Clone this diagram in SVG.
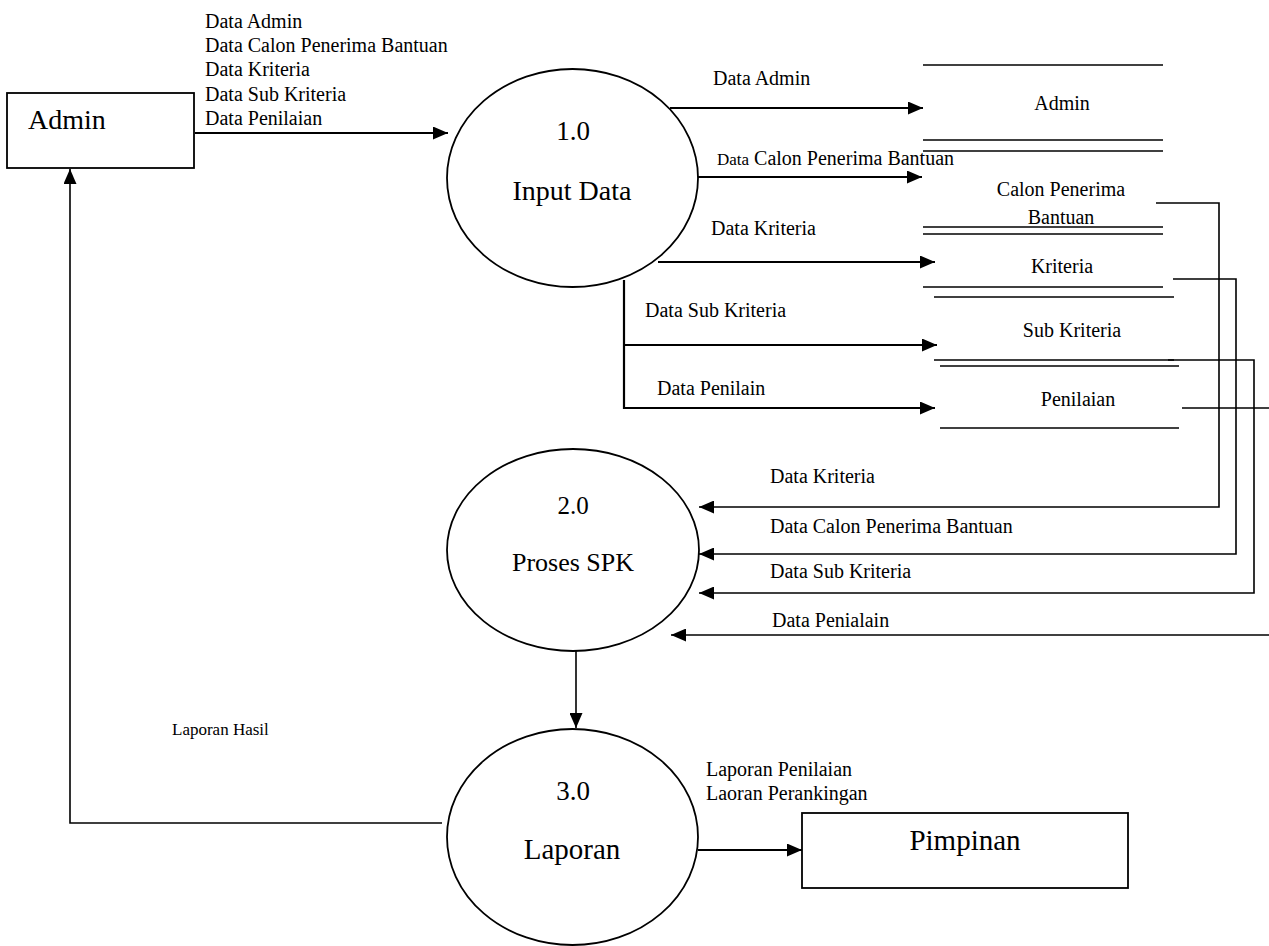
<svg xmlns="http://www.w3.org/2000/svg" width="1269" height="946" viewBox="0 0 1269 946" font-family="'Liberation Serif', 'Times New Roman', serif">
<defs>
<marker id="ah" markerUnits="userSpaceOnUse" markerWidth="15" markerHeight="13" refX="15" refY="6.5" orient="auto">
<path d="M0,0 L15,6.5 L0,13 z" fill="#000"/>
</marker>
<style>
text{font-family:'Liberation Serif','Times New Roman',serif;fill:#000}
.lbl{font-size:20px}
.st{font-size:20px;text-anchor:middle}
.nd{text-anchor:middle}
.flow{fill:none;stroke:#000;stroke-width:2.2}
.thin{fill:none;stroke:#000;stroke-width:1.6}
.shape{fill:#fff;stroke:#000;stroke-width:1.8}
.store{stroke:#000;stroke-width:1.6}
</style>
</defs>
<rect width="1269" height="946" fill="#fff"/>

<g id="connectors" font-family="'Liberation Serif', serif">
<path class="flow" d="M195,133 H448" marker-end="url(#ah)"/>
<path class="flow" d="M670,108 H923" marker-end="url(#ah)"/>
<path class="flow" d="M698,177 H922" marker-end="url(#ah)"/>
<path class="flow" d="M658,262 H935" marker-end="url(#ah)"/>
<path class="flow" d="M624,280 V408 H935" marker-end="url(#ah)"/>
<path class="flow" d="M624,345 H937" marker-end="url(#ah)"/>
<path class="thin" d="M1156,203 H1219 V507 H699" marker-end="url(#ah)"/>
<path class="thin" d="M1173,279 H1236 V554 H699" marker-end="url(#ah)"/>
<path class="thin" d="M1168,360 H1254 V593 H699" marker-end="url(#ah)"/>
<path class="thin" d="M1182,408 H1269"/>
<path class="thin" d="M1269,635 H671" marker-end="url(#ah)"/>
<path class="thin" d="M576,651 V728" marker-end="url(#ah)"/>
<path class="thin" d="M442,823 H70 V169" marker-end="url(#ah)"/>
<path class="flow" d="M698,850 H802" marker-end="url(#ah)"/>
<text class="lbl" x="205" y="28">Data Admin</text>
<text class="lbl" x="205" y="52">Data Calon Penerima Bantuan</text>
<text class="lbl" x="205" y="76">Data Kriteria</text>
<text class="lbl" x="205" y="101">Data Sub Kriteria</text>
<text class="lbl" x="205" y="125">Data Penilaian</text>
<text class="lbl" x="713" y="85">Data Admin</text>
<text class="lbl" x="717" y="165"><tspan font-size="17">Data</tspan> Calon Penerima Bantuan</text>
<text class="lbl" x="711" y="235">Data Kriteria</text>
<text class="lbl" x="645" y="317">Data Sub Kriteria</text>
<text class="lbl" x="657" y="395">Data Penilain</text>
<text class="lbl" x="770" y="483">Data Kriteria</text>
<text class="lbl" x="770" y="533">Data Calon Penerima Bantuan</text>
<text class="lbl" x="770" y="578">Data Sub Kriteria</text>
<text class="lbl" x="772" y="627">Data Penialain</text>
<text x="172" y="735" font-size="17">Laporan Hasil</text>
<text class="lbl" x="706" y="776">Laporan Penilaian</text>
<text class="lbl" x="706" y="800">Laoran Perankingan</text>
</g>

<g id="admin" font-family="'Liberation Serif', serif">
<rect class="shape" x="7" y="93" width="187" height="75"/>
<text x="28" y="129" font-size="28">Admin</text>
</g>

<g id="p1" font-family="'Liberation Serif', serif">
<ellipse class="shape" cx="572.5" cy="178" rx="125.5" ry="109"/>
<text class="nd" x="573" y="140" font-size="27">1.0</text>
<text class="nd" x="572" y="200" font-size="28">Input Data</text>
</g>

<g id="p2" font-family="'Liberation Serif', serif">
<ellipse class="shape" cx="573" cy="550" rx="126" ry="101"/>
<text class="nd" x="573" y="514" font-size="25">2.0</text>
<text class="nd" x="573" y="571" font-size="26">Proses SPK</text>
</g>

<g id="p3" font-family="'Liberation Serif', serif">
<ellipse class="shape" cx="572.5" cy="837" rx="125.5" ry="108"/>
<text class="nd" x="573" y="800" font-size="27">3.0</text>
<text class="nd" x="572" y="859" font-size="29">Laporan</text>
</g>

<g id="pimpinan" font-family="'Liberation Serif', serif">
<rect class="shape" x="802" y="813" width="326" height="75"/>
<text class="nd" x="965" y="850" font-size="29">Pimpinan</text>
</g>

<g id="ds-admin" font-family="'Liberation Serif', serif">
<line class="store" x1="923" y1="65" x2="1163" y2="65"/>
<line class="store" x1="923" y1="140" x2="1163" y2="140"/>
<text class="st" x="1062" y="110">Admin</text>
</g>

<g id="ds-calon" font-family="'Liberation Serif', serif">
<line class="store" x1="923" y1="151" x2="1163" y2="151"/>
<line class="store" x1="923" y1="227" x2="1163" y2="227"/>
<text class="st" x="1061" y="196">Calon Penerima</text>
<text class="st" x="1061" y="224">Bantuan</text>
</g>

<g id="ds-kriteria" font-family="'Liberation Serif', serif">
<line class="store" x1="923" y1="234" x2="1163" y2="234"/>
<line class="store" x1="923" y1="287" x2="1163" y2="287"/>
<text class="st" x="1062" y="273">Kriteria</text>
</g>

<g id="ds-sub" font-family="'Liberation Serif', serif">
<line class="store" x1="934" y1="297" x2="1174" y2="297"/>
<line class="store" x1="934" y1="360" x2="1174" y2="360"/>
<text class="st" x="1072" y="337">Sub Kriteria</text>
</g>

<g id="ds-penilaian" font-family="'Liberation Serif', serif">
<line class="store" x1="940" y1="366" x2="1179" y2="366"/>
<line class="store" x1="940" y1="428" x2="1179" y2="428"/>
<text class="st" x="1078" y="406">Penilaian</text>
</g>
</svg>
